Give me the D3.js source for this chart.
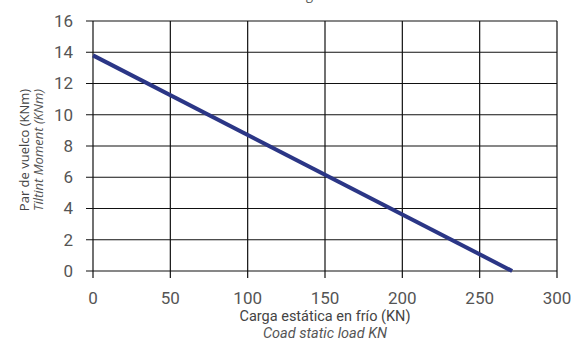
<!DOCTYPE html>
<html>
<head>
<meta charset="utf-8">
<script src="https://cdn.jsdelivr.net/npm/d3@7"></script>
<style>
  body { margin:0; background:#fff; }
  svg text { font-family: Roboto, "DejaVu Sans", sans-serif; }
  svg text.title { font-family: "Open Sans", Roboto, sans-serif; }
</style>
</head>
<body>
<div id="chart"></div>
<script>
// data
const loadKN    = [0, 271];         // carga estática (KN)
const momentKNm = [13.8, 0];        // par de vuelco (KNm)
const xTicks    = [0, 50, 100, 150, 200, 250, 300];
const yTicks    = [0, 2, 4, 6, 8, 10, 12, 14, 16];

const WIDTH = 577, HEIGHT = 345;
const MARGIN = {top:21, right:20, bottom:74, left:93};

const svg = d3.select('#chart').append('svg')
  .attr('width', WIDTH).attr('height', HEIGHT);

const x = d3.scaleLinear().domain([0,300]).range([MARGIN.left, WIDTH-MARGIN.right]);
const y = d3.scaleLinear().domain([0,16]).range([HEIGHT-MARGIN.bottom, MARGIN.top]);

// title cut off at the top edge, only descenders show
svg.append('text').attr('class','title')
  .attr('x', 286).attr('y', -1)
  .attr('font-size', 14).attr('font-style','italic').attr('fill','#555')
  .text('Diagram load');

// grid
svg.append('g').selectAll('line').data(xTicks).join('line')
  .attr('x1', d=>x(d)).attr('x2', d=>x(d))
  .attr('y1', y(16)).attr('y2', y(0)+7)
  .attr('stroke','#111').attr('stroke-width',1.2);
svg.append('g').selectAll('line').data(yTicks).join('line')
  .attr('x1', x(0)-7).attr('x2', x(300))
  .attr('y1', d=>y(d)).attr('y2', d=>y(d))
  .attr('stroke','#111').attr('stroke-width',1.2);

// tick labels
svg.append('g').selectAll('text').data(xTicks).join('text')
  .attr('x', d=>x(d)).attr('y', y(0)+33)
  .attr('text-anchor','middle').attr('font-size',17).attr('fill','#555')
  .text(d=>d);
svg.append('g').selectAll('text').data(yTicks).join('text')
  .attr('x', x(0)-20).attr('y', d=>y(d)).attr('dy','0.35em')
  .attr('text-anchor','end').attr('font-size',17).attr('fill','#555')
  .text(d=>d);

// line
const line = d3.line().x((d,i)=>x(loadKN[i])).y(d=>y(d));
svg.append('path')
  .datum(momentKNm)
  .attr('fill','none')
  .attr('stroke','#2b3686')
  .attr('stroke-width',4)
  .attr('d', line);

// axis titles
const xc = (x(0)+x(300))/2;
svg.append('text').attr('x', xc).attr('y', 321)
  .attr('text-anchor','middle').attr('font-size',14.5).attr('fill','#444')
  .text('Carga estática en frío (KN)');
svg.append('text').attr('x', xc).attr('y', 338)
  .attr('text-anchor','middle').attr('font-size',14.5).attr('font-style','italic').attr('fill','#555')
  .text('Coad static load KN');

const yc = 150;
svg.append('text').attr('class','title')
  .attr('transform', `translate(29,${yc}) rotate(-90)`)
  .attr('text-anchor','middle').attr('font-size',13).attr('fill','#444')
  .text('Par de vuelco (KNm)');
svg.append('text').attr('class','title')
  .attr('transform', `translate(43,${yc}) rotate(-90)`)
  .attr('text-anchor','middle').attr('font-size',13).attr('font-style','italic').attr('fill','#555')
  .text('Tiltint Moment (KNm)');
</script>
</body>
</html>
